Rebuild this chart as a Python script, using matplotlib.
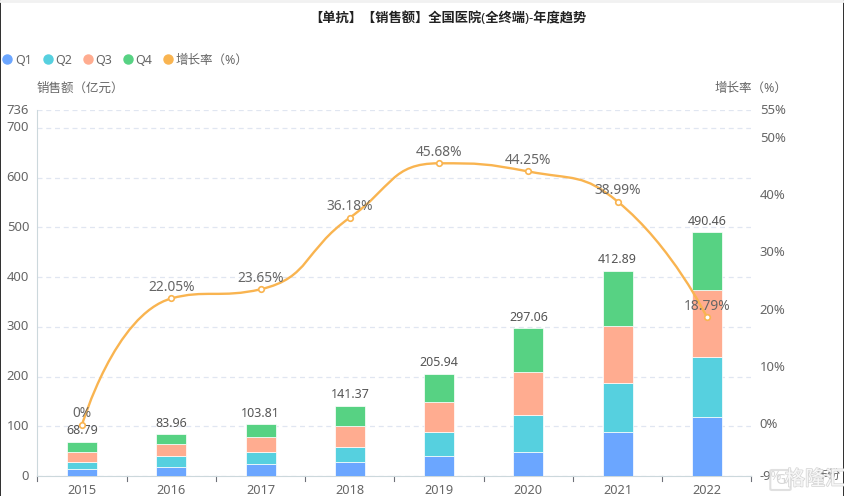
import numpy as np
import matplotlib
matplotlib.use("Agg")
import matplotlib.pyplot as plt
from matplotlib.lines import Line2D
from matplotlib.path import Path
from matplotlib.patches import PathPatch, FancyBboxPatch, Rectangle
from matplotlib.transforms import ScaledTranslation
import matplotlib.patheffects as pe

plt.rcParams['font.family'] = ['Noto Sans', 'Noto Sans CJK SC', 'DejaVu Sans']

# data
years = ['2015', '2016', '2017', '2018', '2019', '2020', '2021', '2022']
q1 = [13.4, 19, 23.5, 27.5, 41, 49, 88, 118]
q2 = [15.6, 21, 25.5, 31.5, 48, 74, 99, 122]
q3 = [18.6, 24, 29.5, 42, 59, 87, 115, 134]
q4 = [21.19, 19.96, 25.31, 40.37, 57.94, 87.06, 110.89, 116.46]
totals = [68.79, 83.96, 103.81, 141.37, 205.94, 297.06, 412.89, 490.46]
growth = [0, 22.05, 23.65, 36.18, 45.68, 44.25, 38.99, 18.79]

left_ticks = [0, 100, 200, 300, 400, 500, 600, 700, 736]
right_ticks = [-9, 0, 10, 20, 30, 40, 50, 55]

series_names = ['Q1', 'Q2', 'Q3', 'Q4']
bar_colors = ['#6BA6FF', '#56D0DF', '#FFAC90', '#57D283']
line_color = '#F9B450'
text_gray = '#666666'

W, H = 845, 496
fig = plt.figure(figsize=(W / 100, H / 100), dpi=100)

# plot area in pixels: x 37.5..751.5, y 110..476
ax = fig.add_axes([37.5 / W, 1 - 476 / H, 714 / W, 366 / H])
ax.set_xlim(-0.5, 7.5)
ax.set_ylim(0, 736)
ax2 = ax.twinx()
ax2.set_ylim(-9, 55)

x = np.arange(len(years))
bar_w = 30 / (714 / 8)

# stacked bars
bottom = np.zeros(len(years))
for vals, col in zip([q1, q2, q3, q4], bar_colors):
    ax.bar(x, vals, bar_w, bottom=bottom, color=col, edgecolor='white', linewidth=0.5, zorder=3)
    bottom = bottom + np.array(vals)

for xi, t in zip(x, totals):
    ax.text(xi, t + 9, f'{t:.2f}', ha='center', va='bottom', fontsize=9, color='#555555', zorder=6)

# grid + axes
ax.set_yticks(left_ticks)
ax.set_yticklabels([str(v) for v in left_ticks], fontsize=9.4, color=text_gray)
ax.set_xticks(x)
ax.set_xticklabels(years, fontsize=9.2, color=text_gray)
ax.grid(True, axis='y', color='#E0E6F1', linestyle=(0, (4, 3)), linewidth=0.9, zorder=0)
ax.set_axisbelow(True)
ax.tick_params(axis='y', length=0, pad=6)
ax.tick_params(axis='x', length=0, pad=6)
for b in np.arange(-0.5, 8):
    ax.plot([b, b], [0, -5 * 736 / 366], color='#6E7079', lw=0.8, clip_on=False, zorder=2)
for s in ['top', 'right']:
    ax.spines[s].set_visible(False)
    ax2.spines[s].set_visible(False)
ax.spines['left'].set_color('#CCD8DC')
ax.spines['bottom'].set_color('#CCD8DC')
ax2.spines['left'].set_visible(False)
ax2.spines['bottom'].set_visible(False)

ax2.set_yticks(right_ticks)
ax2.set_yticklabels([f'{v}%' for v in right_ticks], fontsize=9.4, color=text_gray)
ax2.tick_params(axis='y', length=0, pad=6)
ax2.set_zorder(ax.get_zorder() + 1)

# y tick labels sit a little above their gridlines in the original
up = ScaledTranslation(0, 1.5 / 100, fig.dpi_scale_trans)
for lab in ax.get_yticklabels() + ax2.get_yticklabels():
    lab.set_transform(lab.get_transform() + up)

# smooth growth line, control points clamped to the neighbours like echarts smooth:true
fig.canvas.draw()
pts = ax2.transData.transform(np.column_stack([x, growth]))
smooth = 0.5
n = len(pts)
after = [pts[0].copy()]
before = [None]
for i in range(1, n - 1):
    p, prv, nxt = pts[i], pts[i - 1], pts[i + 1]
    len_prev = np.hypot(*(p - prv))
    len_next = np.hypot(*(nxt - p))
    v = nxt - prv
    cn = p + v * smooth * len_next / (len_prev + len_next)
    cn = np.clip(cn, np.minimum(p, nxt), np.maximum(p, nxt))
    cp = p - (cn - p) * len_prev / len_next
    cp = np.clip(cp, np.minimum(p, prv), np.maximum(p, prv))
    cn = p + (p - cp) * len_next / len_prev
    before.append(cp)
    after.append(cn)
before.append(pts[-1].copy())
verts = [pts[0]]
codes = [Path.MOVETO]
for i in range(n - 1):
    verts += [after[i], before[i + 1], pts[i + 1]]
    codes += [Path.CURVE4] * 3
verts = ax2.transData.inverted().transform(np.array(verts))
ax2.add_patch(PathPatch(Path(verts, codes), fill=False, edgecolor=line_color, lw=1.7, zorder=4))
ax2.plot(x, growth, ls='none', marker='o', ms=4, mfc='white', mec=line_color, mew=1.2, zorder=5)

for xi, g in zip(x, growth):
    lab = '0%' if g == 0 else f'{g:.2f}%'
    ax2.text(xi, g + 0.55, lab, ha='center', va='bottom', fontsize=9.9, color=text_gray, zorder=6)

# legend
handles = [Line2D([], [], ls='none', marker='o', ms=6.5, color=c) for c in bar_colors + [line_color]]
fig.legend(handles, series_names + ['增长率（%）'], loc='center left', bbox_to_anchor=(0.0, 1 - 60 / H),
           ncols=5, frameon=False, fontsize=9, labelcolor=text_gray, handletextpad=0.0, columnspacing=0.66,
           handlelength=1.2, borderpad=0, borderaxespad=0)

# titles
fig.text(448 / W, 1 - 18 / H, '【单抗】【销售额】全国医院(全终端)-年度趋势', ha='center', va='center',
         fontsize=9.55, fontweight='bold', color='#222222')
fig.text(37 / W, 1 - 88 / H, '销售额（亿元）', ha='left', va='center', fontsize=9, color=text_gray)
fig.text(751 / W, 1 - 88 / H, '增长率（%）', ha='center', va='center', fontsize=9, color=text_gray)
fig.text(828 / W, 1 - 475 / H, '年份', ha='center', va='center', fontsize=9, color=text_gray)

# watermark bottom right
fig.text(815 / W, 1 - 480 / H, '格隆汇', ha='center', va='center', fontsize=14.5, color='#F8F8F8', zorder=20,
         path_effects=[pe.withStroke(linewidth=1.1, foreground='#D6D6D6')])
fig.add_artist(FancyBboxPatch((772 / W, 1 - 489 / H), 17 / W, 18 / H, boxstyle='round,pad=0.002',
                              transform=fig.transFigure, fc='#FFFFFF', ec='#D6D6D6', lw=1.5, alpha=0.75, zorder=19))
fig.text(780.5 / W, 1 - 480 / H, 'G', ha='center', va='center', fontsize=10, color='#D6D6D6', zorder=20)

# screenshot edges
fig.add_artist(Rectangle((0, 0), 1 / W, 1, transform=fig.transFigure, fc='#333333', ec='none'))
fig.add_artist(Rectangle((843 / W, 0), 2 / W, 1, transform=fig.transFigure, fc='#333333', ec='none'))
fig.add_artist(Line2D([0, 1], [1 - 0.5 / H, 1 - 0.5 / H], color='#F1F1F1', lw=2))

fig.savefig('out.png', dpi=100)
